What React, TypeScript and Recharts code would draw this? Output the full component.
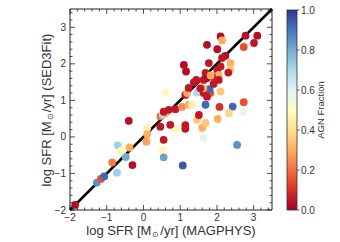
import React from 'react';
import { ScatterChart, Scatter, XAxis, YAxis, ReferenceLine, ReferenceArea, Cell } from 'recharts';

// log SFR from MAGPHYS (x) and SED3Fit (y), coloured by AGN fraction
const sfrMagphys = [-1.86, -1.27, -1.16, -1.07, -0.72, -0.85, -0.3, -0.48, -0.7, -0.61, -0.38, -0.4, 0.1, 0.1, 0.08, 0.46, 0.55, 0.52, 0.55, 0.6, 1.07, 2.55, 1.63, 1.6, 1.69, 1.46, 1.14, 1.14, 0.87, 0.73, 0.46, 0.53, 0.6, 0.69, 0.87, 1.05, 1.23, 1.32, 1.69, 1.51, 1.14, 1.46, 1.64, 1.82, 2.1, 1.8, 1.19, 2.07, 2.43, 2.73, 2.33, 2.72, 2.02, 1.23, 1.37, 1.44, 1.69, 1.1, 1.16, 1.78, 1.73, 2.01, 2.1, 2.14, 2.78, 3.1, 3.01, 2.73, 2.23, 2.14, 2.37, 2.1, 2.37, 2.01, 2.31, 2.05, 1.87, 2.05, 1.91, 1.64, 1.73, 1.83, 1.63, 1.55, 1.73, 0.55];
const sfrSed3fit = [-1.86, -1.25, -1.15, -1.08, -0.98, -0.7, -0.77, -0.55, -0.23, -0.38, -0.29, 0.44, 0.24, 0.07, -0.13, 0.28, -0.08, -0.36, -0.56, 1.2, -0.78, -0.22, -0.04, 0.25, 0.38, 0.47, 0.32, 0.22, 0.22, 0.33, 0.56, 0.6, 0.65, 0.74, 0.76, 0.82, 0.88, 0.88, 0.88, 0.6, 1.15, 1.21, 1.2, 1.2, 1.24, 1.31, 1.2, 0.82, 0.83, 0.95, 0.65, 0.68, 0.49, 1.34, 1.49, 1.56, 1.75, 1.97, 1.79, 2.02, 2.52, 2.4, 2.75, 2.64, 2.77, 2.77, 2.57, 2.46, 2.22, 2.16, 2.02, 1.93, 1.84, 1.84, 1.76, 1.7, 1.65, 1.56, 1.45, 1.56, 1.61, 1.68, 1.33, 1.33, 1.1, 0.69];
const agnFraction = [0.03, 0.85, 0.15, 0.92, 0.72, 0.22, 0.03, 0.8, 0.72, 0.48, 0.3, 0.03, 0.45, 0.3, 0.28, 0.05, 0.05, 0.48, 0.82, 0.48, 0.95, 0.85, 0.6, 0.3, 0.35, 0.35, 0.05, 0.05, 0.48, 0.05, 0.2, 0.7, 0.3, 0.05, 0.05, 0.25, 0.3, 0.45, 0.92, 0.05, 0.05, 0.7, 0.05, 0.15, 0.35, 0.92, 0.3, 0.1, 0.92, 0.15, 0.38, 0.58, 0.3, 0.05, 0.05, 0.05, 0.05, 0.03, 0.03, 0.05, 0.03, 0.03, 0.03, 0.3, 0.03, 0.03, 0.05, 0.15, 0.03, 0.05, 0.3, 0.05, 0.35, 0.05, 0.05, 0.3, 0.05, 0.05, 0.05, 0.05, 0.03, 0.3, 0.3, 0.05, 0.05, 0.05];

const majorTicks = [-2, -1, 0, 1, 2, 3];
const minorTicks = [-1.8, -1.6, -1.4, -1.2, -0.8, -0.6, -0.4, -0.2, 0.2, 0.4, 0.6, 0.8, 1.2, 1.4, 1.6, 1.8, 2.2, 2.4, 2.6, 2.8, 3.2, 3.4];
const cbarTicks = [0, 0.2, 0.4, 0.6, 0.8, 1.0];
// RdYlBu
const cmapStops = ['#a50026', '#d73027', '#f46d43', '#fdae61', '#fee090', '#ffffbf', '#e0f3f8', '#abd9e9', '#74add1', '#4575b4', '#313695'];

const points = sfrMagphys.map((x, i) => ({ x, y: sfrSed3fit[i], agn: agnFraction[i] }));
const allTicks = [...majorTicks, ...minorTicks].sort((a, b) => a - b);

function hexToRgb(h: string) {
  return [1, 3, 5].map(k => parseInt(h.slice(k, k + 2), 16));
}

function cmap(v: number) {
  const t = Math.max(0, Math.min(1, v)) * (cmapStops.length - 1);
  const i = Math.min(Math.floor(t), cmapStops.length - 2);
  const f = t - i;
  const a = hexToRgb(cmapStops[i]);
  const b = hexToRgb(cmapStops[i + 1]);
  const c = a.map((v0, k) => Math.round(v0 + (b[k] - v0) * f));
  return `rgb(${c[0]},${c[1]},${c[2]})`;
}

const fmt = (v: number) => (v < 0 ? `\u2212${Math.abs(v)}` : `${v}`);
const DOMAIN: [number, number] = [-2, 3.5];
const FONT = '"Liberation Sans", Arial, Helvetica, sans-serif';
const frame = '#222';

// plot box from the chart margins
const M = { top: 9, right: 68, bottom: 32, left: 70 };
const W = 340, H = 242;
const PLOT_TOP = M.top, PLOT_BOTTOM = H - M.bottom, PLOT_LEFT = M.left, PLOT_RIGHT = W - M.right;

const XTick = (props: any) => {
  const { x, payload } = props;
  const v = payload.value;
  const major = Number.isInteger(v);
  const len = major ? 5 : 2.5;
  return <g>
      <line x1={x} x2={x} y1={PLOT_BOTTOM} y2={PLOT_BOTTOM - len} stroke={frame} strokeWidth={0.8} />
      <line x1={x} x2={x} y1={PLOT_TOP} y2={PLOT_TOP + len} stroke={frame} strokeWidth={0.8} />
      {major && <text x={x} y={PLOT_BOTTOM + 4} dy="0.71em" textAnchor="middle" fontSize={10} fill="#333" fontFamily={FONT}>{fmt(v)}</text>}
    </g>;
};

const YTick = (props: any) => {
  const { y, payload } = props;
  const v = payload.value;
  const major = Number.isInteger(v);
  const len = major ? 5 : 2.5;
  return <g>
      <line x1={PLOT_LEFT} x2={PLOT_LEFT + len} y1={y} y2={y} stroke={frame} strokeWidth={0.8} />
      <line x1={PLOT_RIGHT} x2={PLOT_RIGHT - len} y1={y} y2={y} stroke={frame} strokeWidth={0.8} />
      {major && <text x={PLOT_LEFT - 4} y={y} dy="0.35em" textAnchor="end" fontSize={10} fill="#333" fontFamily={FONT}>{fmt(v)}</text>}
    </g>;
};

const Dot = (props: any) => {
  const { cx, cy, fill } = props;
  return <circle cx={cx} cy={cy} r={3.9} fill={fill} />;
};

const Sun = () => <span style={{ fontSize: 8, verticalAlign: -2, margin: '0 1px' }}>⊙</span>;

export default function App() {
  return <div style={{ position: 'absolute', left: 0, top: 0, width: W, height: H, background: '#fff', fontFamily: FONT }}>
      <ScatterChart width={W} height={H} margin={{ top: M.top, right: M.right, bottom: 0, left: 0 }}>
        <XAxis xAxisId="x" type="number" dataKey="x" domain={DOMAIN} ticks={allTicks} interval={0} allowDataOverflow height={M.bottom} tickSize={0} tickMargin={0} tickLine={false} axisLine={false} tick={<XTick />} />
        <YAxis yAxisId="y" type="number" dataKey="y" domain={DOMAIN} ticks={allTicks} interval={0} allowDataOverflow width={M.left} tickSize={0} tickMargin={0} tickLine={false} axisLine={false} tick={<YTick />} />
        <Scatter data={points} xAxisId="x" yAxisId="y" shape={<Dot />} isAnimationActive={false}>
          {points.map((p, i) => <Cell key={i} fill={cmap(p.agn)} />)}
        </Scatter>
        <ReferenceLine xAxisId="x" yAxisId="y" segment={[{ x: -2, y: -2 }, { x: 3.5, y: 3.5 }]} stroke="#000" strokeWidth={2.5} />
        <ReferenceArea xAxisId="x" yAxisId="y" x1={-2} x2={3.5} y1={-2} y2={3.5} fill="none" fillOpacity={0} stroke={frame} strokeWidth={1} />
      </ScatterChart>

      <svg width={W} height={H} style={{ position: 'absolute', left: 0, top: 0, pointerEvents: 'none' }}>
        <defs>
          <linearGradient id="cbar" x1="0" y1="1" x2="0" y2="0">
            {cmapStops.map((c, i) => <stop key={i} offset={i / (cmapStops.length - 1)} stopColor={c} />)}
          </linearGradient>
        </defs>
        <rect x={287} y={10} width={10} height={200} fill="url(#cbar)" stroke="#333" strokeWidth={0.8} />
        {cbarTicks.map(t => {
          const y = 210 - t * 200;
          return <g key={t}>
              <line x1={297} x2={299.5} y1={y} y2={y} stroke="#333" strokeWidth={0.8} />
              <text x={301} y={y} dy="0.35em" fontSize={10} fill="#333" fontFamily={FONT}>{t.toFixed(1)}</text>
            </g>;
        })}
        <text x={321} y={110} transform="rotate(-90 321 110)" textAnchor="middle" dy="0.35em" fontSize={9.5} fill="#333" fontFamily={FONT}>AGN Fraction</text>
      </svg>

      <div style={{ position: 'absolute', left: 171, top: 231, transform: 'translate(-50%, -50%)', whiteSpace: 'nowrap', fontSize: 13, color: '#333' }}>
        log SFR [M<Sun />/yr] (MAGPHYS)
      </div>
      <div style={{ position: 'absolute', left: 47, top: 110, transform: 'translate(-50%, -50%) rotate(-90deg)', whiteSpace: 'nowrap', fontSize: 13, color: '#333' }}>
        log SFR [M<Sun />/yr] (SED3Fit)
      </div>
    </div>;
}
